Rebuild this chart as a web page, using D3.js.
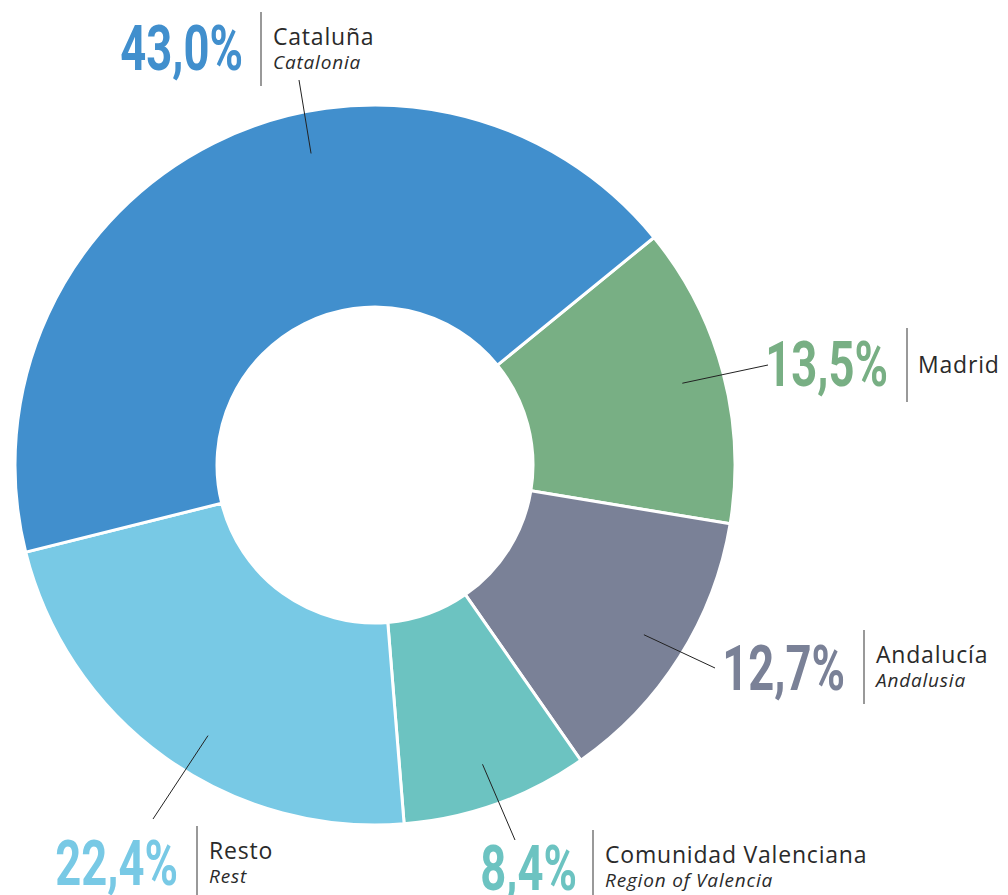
<!DOCTYPE html>
<html>
<head>
<meta charset="utf-8">
<script src="https://cdn.jsdelivr.net/npm/d3@7"></script>
<style>
  body { margin: 0; background: #fff; }
  .pct { font-family: Roboto, sans-serif; font-weight: 700; }
  .name { font-family: "Open Sans", sans-serif; font-weight: 400; font-size: 23px; letter-spacing: 0.8px; fill: #2a2a2a; }
  .sub { font-family: "Open Sans", sans-serif; font-weight: 400; font-size: 19px; letter-spacing: 0.8px; font-style: italic; fill: #2a2a2a; }
</style>
</head>
<body>
<script>
// data, clockwise from the Madrid slice
var regions = ["Madrid", "Andalucía", "Comunidad Valenciana", "Resto", "Cataluña"];
var english = ["", "Andalusia", "Region of Valencia", "Rest", "Catalonia"];
var shares = [13.5, 12.7, 8.4, 22.4, 43.0];
var colors = ["#78af84", "#7a8197", "#6cc3c1", "#78c9e5", "#418fcd"];

// label placement (pct right edge, baseline, separator x, leader end)
var labels = [
  {px: 888, py: 386, sx: 907, sy: 328, ex: 768, ey: 365, da: 0},
  {px: 845, py: 690, sx: 864, sy: 630, ex: 715, ey: 668, da: 0},
  {px: 577, py: 890, sx: 593, sy: 830, ex: 515, ey: 840, da: 0},
  {px: 178, py: 885, sx: 197, sy: 826, ex: 153, ey: 819, da: -4},
  {px: 243, py: 70, sx: 261, sy: 12, ex: 299, ey: 80, da: 15}
];

var w = 1008, h = 895;
var cx = 375, cy = 465, R = 360, r0 = 158;

var svg = d3.select("body").append("svg")
    .attr("width", w)
    .attr("height", h);

var start = 50.8 * Math.PI / 180;
var pie = d3.pie().sort(null)
    .startAngle(start)
    .endAngle(start + 2 * Math.PI);

var arcs = pie(shares);

var arc = d3.arc().innerRadius(r0).outerRadius(R);

var g = svg.append("g").attr("transform", "translate(" + cx + "," + cy + ")");

g.selectAll("path")
    .data(arcs)
    .enter().append("path")
    .attr("d", arc)
    .attr("fill", function(d, i) { return colors[i]; })
    .attr("stroke", "#fff")
    .attr("stroke-width", 3);

var fmt = function(v) { return v.toFixed(1).replace(".", ",") + "%"; };

arcs.forEach(function(d, i) {
  var L = labels[i];
  var a = (d.startAngle + d.endAngle) / 2 + L.da * Math.PI / 180;
  var rr = 318;
  var x1 = cx + rr * Math.sin(a), y1 = cy - rr * Math.cos(a);

  svg.append("line")
      .attr("x1", x1).attr("y1", y1)
      .attr("x2", L.ex).attr("y2", L.ey)
      .attr("stroke", "#222")
      .attr("stroke-width", 1);

  svg.append("text")
      .attr("class", "pct")
      .attr("transform", "translate(" + L.px + "," + L.py + ") scale(0.72,1)")
      .attr("text-anchor", "end")
      .attr("font-size", 63)
      .attr("fill", colors[i])
      .text(fmt(shares[i]));

  svg.append("line")
      .attr("x1", L.sx).attr("y1", L.sy)
      .attr("x2", L.sx).attr("y2", Math.min(L.sy + 74, h))
      .attr("stroke", "#555")
      .attr("stroke-width", 1.2);

  var tx = L.sx + 12;
  if (english[i]) {
    svg.append("text").attr("class", "name")
        .attr("x", tx).attr("y", L.sy + 33)
        .text(regions[i]);
    svg.append("text").attr("class", "sub")
        .attr("x", tx).attr("y", L.sy + 57)
        .text(english[i]);
  } else {
    svg.append("text").attr("class", "name")
        .attr("x", tx - 1).attr("y", L.sy + 45)
        .text(regions[i]);
  }
});
</script>
</body>
</html>
